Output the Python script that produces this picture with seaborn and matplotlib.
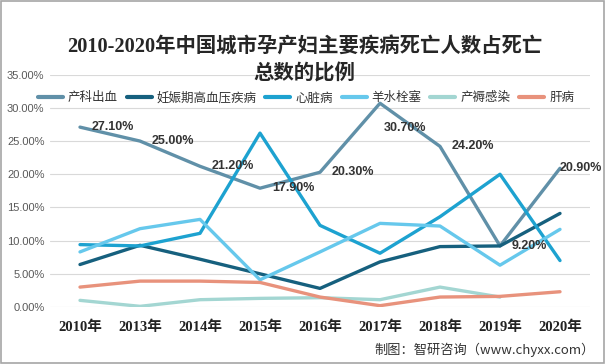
import numpy as np
import pandas as pd
import matplotlib
matplotlib.use("Agg")
import matplotlib.pyplot as plt
import seaborn as sns
from matplotlib.patches import Rectangle

years = ["2010年", "2013年", "2014年", "2015年", "2016年", "2017年", "2018年", "2019年", "2020年"]
series_names = ["产科出血", "妊娠期高血压疾病", "心脏病", "羊水栓塞", "产褥感染", "肝病"]
chanke_chuxue = [27.1, 25.0, 21.2, 17.9, 20.3, 30.7, 24.2, 9.2, 20.9]
renshen_gaoxueya = [6.4, 9.3, 7.2, 5.0, 2.8, 6.8, 9.1, 9.2, 14.1]
xinzang = [9.4, 9.2, 11.1, 26.2, 12.3, 8.1, 13.6, 20.0, 7.0]
yangshui_shuansai = [8.3, 11.8, 13.2, 4.1, 8.3, 12.6, 12.2, 6.3, 11.7]
chanru_ganran = [1.0, 0.1, 1.1, 1.3, 1.4, 1.1, 3.0, 1.5, np.nan]
ganbing = [3.0, 3.9, 3.9, 3.7, 1.5, 0.2, 1.5, 1.6, 2.3]
label_values = chanke_chuxue
# label offsets in pixels (styling)
label_offsets = [(12, 0), (12, 0), (12, 0), (12, 0), (12, 0), (4, -25), (12, 0), (12, 0), (0, 0)]

colors = ["#6090a8", "#16607e", "#1da2d0", "#66c8ec", "#a3d6d2", "#e8927c"]

all_values = [chanke_chuxue, renshen_gaoxueya, xinzang, yangshui_shuansai, chanru_ganran, ganbing]
rows = []
for name, vals in zip(series_names, all_values):
    for i, v in enumerate(vals):
        rows.append({"idx": i, "year": years[i], "series": name, "value": v})
df = pd.DataFrame(rows)

sns.set_theme(style="white")
plt.rcParams["font.family"] = ["Noto Sans CJK SC", "DejaVu Sans"]
plt.rcParams["axes.unicode_minus"] = False

fig = plt.figure(figsize=(6.05, 3.64), dpi=100)
ax = fig.add_axes([50 / 605, 1 - 307 / 364, 540 / 605, 232.3 / 364])

sns.lineplot(data=df, x="idx", y="value", hue="series", hue_order=series_names,
             palette=colors, linewidth=2.4, ax=ax, legend=True, sort=False)

ax.set_xlim(-0.5, len(years) - 0.5)
ax.set_ylim(0, 35)
ax.set_yticks(np.arange(0, 35.01, 5))
ax.set_yticklabels([f"{v:.2f}%" for v in np.arange(0, 35.01, 5)],
                   fontsize=8, color="#595959", family=["Liberation Sans", "DejaVu Sans"])
ax.set_xticks(range(len(years)))
ax.set_xticklabels(years, fontsize=10.5, fontweight="bold", color="#222222",
                   family=["Liberation Serif", "Noto Sans CJK SC"])
ax.tick_params(axis="x", length=0, pad=10)
ax.tick_params(axis="y", length=0, pad=4)
ax.set_xlabel("")
ax.set_ylabel("")
ax.grid(axis="y", color="#d9d9d9", linewidth=0.8)
ax.grid(axis="x", visible=False)
for s in ax.spines.values():
    s.set_visible(False)

for i, v in enumerate(label_values):
    dx, dy = label_offsets[i]
    ax.annotate(f"{v:.2f}%", xy=(i, v), xytext=(dx, dy), textcoords="offset pixels",
                ha="left", va="center", fontsize=9, fontweight="bold", color="#333333",
                family=["Liberation Sans", "DejaVu Sans"])

handles, labels = ax.get_legend_handles_labels()
ax.legend(handles, labels, ncol=6, loc="center", bbox_to_anchor=(0.474, 0.9),
          frameon=False, fontsize=9, handlelength=2.0, handletextpad=0.4,
          columnspacing=0.7, borderaxespad=0)
leg = ax.get_legend()
for line in leg.get_lines():
    line.set_linewidth(3)
for t in leg.get_texts():
    t.set_color("#333333")

fig.text(0.503, 1 - 47 / 364, "2010-2020年中国城市孕产妇主要疾病死亡人数占死亡",
         ha="center", va="center", fontsize=14.7, fontweight="bold", color="#262626",
         family=["Liberation Serif", "Noto Sans CJK SC"])
fig.text(0.503, 1 - 74 / 364, "总数的比例",
         ha="center", va="center", fontsize=14.7, fontweight="bold", color="#262626",
         family=["Liberation Serif", "Noto Sans CJK SC"])

fig.text(595 / 605, 1 - 350 / 364, "制图：智研咨询（www.chyxx.com）",
         ha="right", va="center", fontsize=9.5, color="#333333")

fig.patches.append(Rectangle((0.001, 0.002), 0.997, 0.995, transform=fig.transFigure,
                             fill=False, edgecolor="#a6a6a6", linewidth=1.2))

fig.savefig("out.png", dpi=100)
